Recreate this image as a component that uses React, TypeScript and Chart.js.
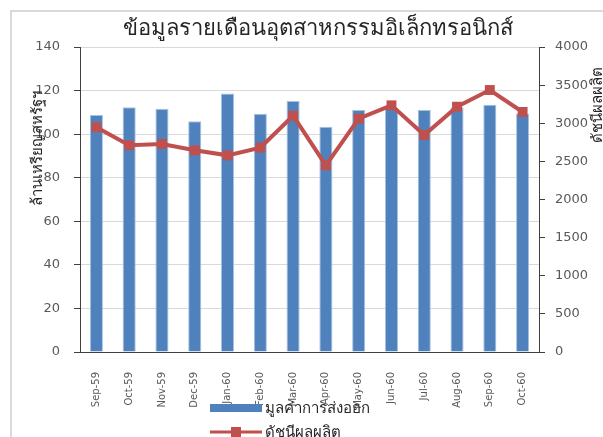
import React, { useEffect, useRef } from "react";
import { Chart, registerables } from "chart.js";

Chart.register(...registerables);

const categories = ["Sep-59", "Oct-59", "Nov-59", "Dec-59", "Jan-60", "Feb-60", "Mar-60", "Apr-60", "May-60", "Jun-60", "Jul-60", "Aug-60", "Sep-60", "Oct-60"];
const exportValues = [108.8, 112.3, 111.7, 105.9, 118.7, 109.4, 115.2, 103.4, 111.1, 112.0, 111.1, 112.4, 113.5, 109.5];
const productionIndex = [2947, 2711, 2728, 2645, 2579, 2680, 3099, 2448, 3060, 3235, 2846, 3217, 3436, 3148];
const leftTicks = [0, 20, 40, 60, 80, 100, 120, 140];
const rightTicks = [0, 500, 1000, 1500, 2000, 2500, 3000, 3500, 4000];

const titleText = "ข้อมูลรายเดือนอุตสาหกรรมอิเล็กทรอนิกส์";
const leftTitle = "ล้านเหรียญสหรัฐฯ";
const rightTitle = "ดัชนีผลผลิต";
const barLabel = "มูลค่าการส่งออก";
const lineLabel = "ดัชนีผลผลิต";

const BAR_COLOR = "#4F81BD";
const LINE_COLOR = "#C0504D";
const FONT = "'Noto Sans', 'DejaVu Sans', sans-serif";
const NUM_FONT = "'DejaVu Sans', sans-serif";

const decorPlugin = {
  id: "decor",
  afterDraw(chart: any) {
    const ctx = chart.ctx;
    ctx.save();
    // title
    ctx.fillStyle = "#262626";
    ctx.font = `22px ${FONT}`;
    ctx.textAlign = "center";
    ctx.textBaseline = "middle";
    ctx.fillText(titleText, 318, 29);
    // left axis title
    ctx.font = `15px ${FONT}`;
    ctx.fillStyle = "#262626";
    ctx.save();
    ctx.translate(38, 148);
    ctx.rotate(-Math.PI / 2);
    ctx.fillText(leftTitle, 0, 0);
    ctx.restore();
    // right axis title
    ctx.save();
    ctx.translate(598, 105);
    ctx.rotate(-Math.PI / 2);
    ctx.fillText(rightTitle, 0, 0);
    ctx.restore();
    // legend
    ctx.textAlign = "left";
    ctx.font = `15px ${FONT}`;
    ctx.fillStyle = BAR_COLOR;
    ctx.fillRect(210, 404, 52, 8);
    ctx.fillStyle = "#262626";
    ctx.fillText(barLabel, 265, 409);
    ctx.strokeStyle = LINE_COLOR;
    ctx.lineWidth = 3;
    ctx.beginPath();
    ctx.moveTo(210, 432);
    ctx.lineTo(262, 432);
    ctx.stroke();
    ctx.fillStyle = LINE_COLOR;
    ctx.fillRect(231, 427, 10, 10);
    ctx.fillStyle = "#262626";
    ctx.fillText(lineLabel, 265, 433);
    ctx.restore();
  },
};

export default function App() {
  const ref = useRef<HTMLCanvasElement | null>(null);
  useEffect(() => {
    document.body.style.margin = "0";
    const canvas = ref.current!;
    const chart = new Chart(canvas, {
      type: "bar",
      data: {
        labels: categories,
        datasets: [
          {
            type: "line",
            label: lineLabel,
            data: productionIndex,
            yAxisID: "y2",
            borderColor: LINE_COLOR,
            backgroundColor: LINE_COLOR,
            borderWidth: 4,
            pointStyle: "rect",
            pointRadius: 7,
            pointBorderWidth: 0,
            pointBackgroundColor: LINE_COLOR,
            tension: 0,
            order: 0,
          } as any,
          {
            type: "bar",
            label: barLabel,
            data: exportValues,
            yAxisID: "y",
            backgroundColor: BAR_COLOR,
            borderColor: "#A9C1E0",
            borderWidth: 1,
            categoryPercentage: 1,
            barPercentage: 0.4,
            order: 1,
          } as any,
        ],
      },
      options: {
        animation: false,
        responsive: false,
        maintainAspectRatio: false,
        layout: { padding: { top: 47, left: 0, right: 0, bottom: 0 } },
        plugins: { legend: { display: false }, title: { display: false }, tooltip: { enabled: false } },
        scales: {
          x: {
            grid: { display: false, drawTicks: false },
            border: { color: "#404040", width: 1 },
            ticks: {
              minRotation: 90,
              maxRotation: 90,
              padding: 20,
              color: "#595959",
              font: { size: 10, family: NUM_FONT },
            },
            afterFit: (s: any) => { s.height = 85; },
          },
          y: {
            position: "left",
            min: 0,
            max: 140,
            afterBuildTicks: (s: any) => { s.ticks = leftTicks.map((v) => ({ value: v })); },
            grid: { color: "#D9D9D9", tickColor: "#404040", tickLength: 6, drawOnChartArea: true },
            border: { color: "#404040", width: 1 },
            ticks: { color: "#595959", padding: 14, font: { size: 13, family: NUM_FONT }, callback: (v: any) => String(v) },
            afterFit: (s: any) => { s.width = 80; },
          },
          y2: {
            position: "right",
            min: 0,
            max: 4000,
            afterBuildTicks: (s: any) => { s.ticks = rightTicks.map((v) => ({ value: v })); },
            grid: { drawOnChartArea: false, tickColor: "#404040", tickLength: 6 },
            border: { color: "#404040", width: 1 },
            ticks: { color: "#595959", padding: 10, font: { size: 13, family: NUM_FONT }, callback: (v: any) => String(v) },
            afterFit: (s: any) => { s.width = 64; },
          },
        },
      },
      plugins: [decorPlugin],
    });
    return () => chart.destroy();
  }, []);
  return (
    <div style={{ position: "relative", width: 603, height: 437, overflow: "hidden", background: "#fff" }}>
      <div style={{ position: "absolute", left: 10, top: 10, width: 600, height: 450, border: "2px solid #D9D9D9", boxSizing: "border-box" }} />
      <canvas ref={ref} width={603} height={437} style={{ position: "absolute", left: 0, top: 0, width: 603, height: 437 }} />
    </div>
  );
}
